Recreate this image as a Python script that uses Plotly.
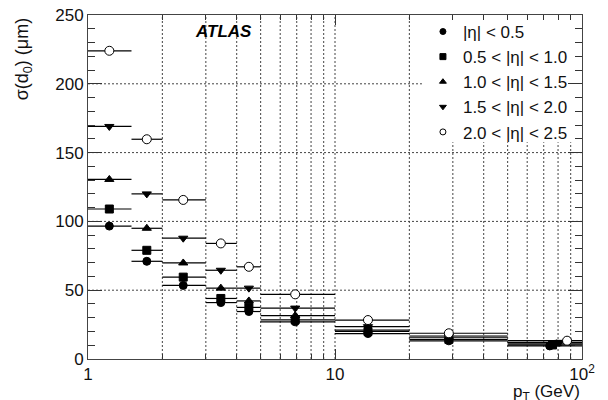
import plotly.graph_objects as go

# pT bin edges (GeV) and mean pT of each bin
bin_edges = [1, 1.5, 2, 3, 4, 5, 10, 20, 50, 100]
pt_mean = [1.22, 1.73, 2.43, 3.45, 4.48, 6.9, 13.6, 28.9]
# mean pT of the last bin differs slightly per eta region
pt_last = {"eta1": 74, "eta2": 76, "eta3": 79, "eta4": 81, "eta5": 87}

# transverse impact parameter resolution sigma(d0) in micrometres
sigma_eta1 = [96.6, 71, 53.5, 41, 34.5, 27, 18.5, 13.2, 9.5]
sigma_eta2 = [109, 79, 59.5, 44, 37.5, 28.5, 20, 14.3, 10.2]
sigma_eta3 = [130.5, 95, 69.8, 51.5, 42.2, 31.5, 21, 15.8, 11.1]
sigma_eta4 = [169, 120, 87.8, 64.5, 51.5, 37, 23.5, 16.7, 12.1]
sigma_eta5 = [224, 159.7, 115.6, 84, 67, 47, 28.3, 18.7, 13.3]

labels = ["|η| < 0.5", "0.5 < |η| < 1.0", "1.0 < |η| < 1.5",
          "1.5 < |η| < 2.0", "2.0 < |η| < 2.5"]

# grid positions
x_grid = [2, 3, 4, 5, 6, 7, 8, 9, 10, 20, 30, 40, 50, 60, 70, 80, 90]
y_grid = [50, 100, 150, 200]

series = [
    ("eta1", sigma_eta1, "circle", "black"),
    ("eta2", sigma_eta2, "square", "black"),
    ("eta3", sigma_eta3, "triangle-up", "black"),
    ("eta4", sigma_eta4, "triangle-down", "black"),
    ("eta5", sigma_eta5, "circle", "white"),
]

FONT = "Liberation Sans, Arial, sans-serif"
GRID = dict(color="#444", width=1, dash="2px,2px")
fig = go.Figure()

for (key, vals, sym, fill), name in zip(series, labels):
    xs = pt_mean + [pt_last[key]]
    plus = [hi - x for x, hi in zip(xs, bin_edges[1:])]
    minus = [x - lo for x, lo in zip(xs, bin_edges[:-1])]
    fig.add_trace(go.Scatter(
        x=xs, y=vals, mode="markers", name=name, showlegend=False,
        marker=dict(symbol=sym, size=9 if fill == "white" else 8,
                    color=fill, line=dict(color="black", width=1)),
        error_x=dict(type="data", symmetric=False, array=plus, arrayminus=minus,
                     width=0, thickness=1.2, color="black"),
    ))
    # legend entry with smaller symbols
    fig.add_trace(go.Scatter(
        x=[None], y=[None], mode="markers", name=name, showlegend=True,
        marker=dict(symbol=sym, size=6, color=fill, line=dict(color="black", width=1)),
    ))

# dotted grid drawn as shapes beneath the data
for gx in x_grid:
    fig.add_shape(type="line", xref="x", yref="paper", x0=gx, x1=gx, y0=0, y1=1,
                  line=GRID, layer="below")
for gy in y_grid:
    fig.add_shape(type="line", xref="paper", yref="y", x0=0, x1=1, y0=gy, y1=gy,
                  line=GRID, layer="below")
# white legend panel covering the grid behind the legend
fig.add_shape(type="rect", xref="paper", yref="paper",
              x0=0.676, x1=1.0, y0=0.63, y1=1.0,
              fillcolor="white", line=dict(width=0), layer="below")

fig.update_xaxes(
    type="log", range=[0, 2], automargin=False,
    tickvals=[1, 10, 100], ticktext=["1", "10", "10<sup>2</sup>"],
    ticks="inside", ticklen=10, tickcolor="#333",
    showline=True, linecolor="#444", linewidth=1, mirror="allticks",
    showgrid=False,
    minor=dict(tickvals=x_grid, ticks="inside", ticklen=5, tickcolor="#333", showgrid=False),
    tickfont=dict(family=FONT, size=17, color="#111"),
    zeroline=False,
)
fig.update_yaxes(
    range=[0, 250], tickvals=[0, 50, 100, 150, 200, 250], automargin=False,
    ticks="inside", ticklen=14, tickcolor="#333",
    showline=True, linecolor="#444", linewidth=1, mirror="allticks",
    showgrid=False,
    minor=dict(dtick=10, ticks="inside", ticklen=7, tickcolor="#333", showgrid=False),
    tickfont=dict(family=FONT, size=17, color="#111"),
    zeroline=False,
)

fig.add_annotation(text="<b><i>ATLAS</i></b>", x=0.275, y=0.951, xref="paper", yref="paper",
                   xanchor="center", yanchor="middle", showarrow=False,
                   font=dict(family=FONT, size=17, color="black"))
fig.add_annotation(text="p<sub>T</sub> (GeV)", x=1.0, y=-0.062, xref="paper", yref="paper",
                   xanchor="right", yanchor="top", showarrow=False,
                   font=dict(family=FONT, size=17, color="#111"))
fig.add_annotation(text="σ(d<sub>0</sub>) (μm)", x=-0.13, y=1.0, xref="paper", yref="paper",
                   xanchor="center", yanchor="top", textangle=-90, showarrow=False,
                   font=dict(family=FONT, size=18, color="#111"))

fig.update_layout(
    width=608, height=400,
    margin=dict(l=88, r=26, t=15, b=41),
    paper_bgcolor="white", plot_bgcolor="white",
    showlegend=True,
    legend=dict(x=0.678, y=1.003, xanchor="left", yanchor="top",
                bgcolor="rgba(0,0,0,0)", font=dict(family=FONT, size=17, color="#111"),
                tracegroupgap=0),
)

fig.write_html("out.html")
